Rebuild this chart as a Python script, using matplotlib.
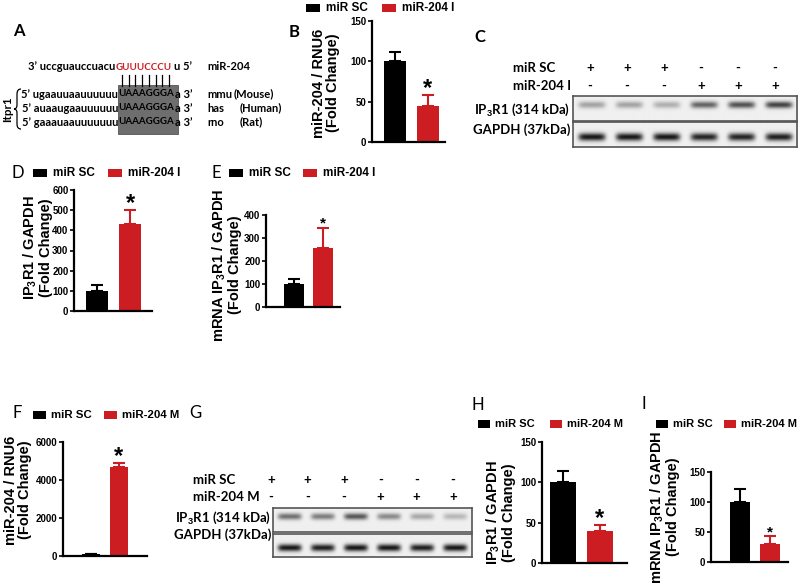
import numpy as np
import matplotlib
matplotlib.use("Agg")
import matplotlib.pyplot as plt
from matplotlib.patches import Rectangle, PathPatch
from matplotlib.path import Path

W, H = 800, 588
RED = '#cc1d22'
BLACK = '#000000'

# ---- data ----
groups_i = ['miR SC', 'miR-204 I']
groups_m = ['miR SC', 'miR-204 M']

b_mean, b_err = [100, 45], [11, 13]
d_mean, d_err = [100, 432], [27, 68]
e_mean, e_err = [100, 255], [20, 90]
f_mean, f_err = [80, 4700], [20, 180]
h_mean, h_err = [100, 40], [14, 7]
i_mean, i_err = [100, 30], [21, 13]

b_ticks = [0, 50, 100, 150]
d_ticks = [0, 100, 200, 300, 400, 500, 600]
e_ticks = [0, 100, 200, 300, 400]
f_ticks = [0, 2000, 4000, 6000]
h_ticks = [0, 50, 100, 150]
i_ticks = [0, 50, 100, 150]

mir_prefix, mir_seed, mir_suffix, mir_name = "3\u2019 uccguauccuacu", "GUUUCCCU", "u 5\u2019", "miR-204"
utr_prefix = ["5\u2019 ugaauuaauuuuuu", "5\u2019 auaaugaauuuuuu", "5\u2019 gaaauaauuuuuuu"]
utr_seed = "UAAAGGGA"
utr_suffix = "a 3\u2019"
species = ["mmu", "has", "rno"]
species_names = ["(Mouse)", "(Human)", "(Rat)"]

c_sc = ['+', '+', '+', '-', '-', '-']
c_mir = ['-', '-', '-', '+', '+', '+']
c_ip3r1 = [0.30, 0.30, 0.25, 0.55, 0.62, 0.68]
c_gapdh = [0.85, 0.85, 0.85, 0.80, 0.80, 0.82]
g_ip3r1 = [0.50, 0.45, 0.60, 0.40, 0.28, 0.22]
g_gapdh = [0.85, 0.82, 0.85, 0.85, 0.82, 0.85]

blot_labels = [r"IP$_3$R1 (314 kDa)", "GAPDH (37kDa)"]

plt.rcParams['font.family'] = ['Liberation Sans', 'DejaVu Sans']
plt.rcParams['font.weight'] = 'bold'
plt.rcParams['mathtext.fontset'] = 'custom'
plt.rcParams['mathtext.rm'] = 'Liberation Sans:bold'
plt.rcParams['mathtext.bf'] = 'Liberation Sans:bold'
plt.rcParams['mathtext.default'] = 'bf'

fig = plt.figure(figsize=(W / 100, H / 100), dpi=100)

# overlay in pixel coordinates
ov = fig.add_axes([0, 0, 1, 1])
ov.set_xlim(0, W)
ov.set_ylim(H, 0)
ov.axis('off')

CAL = ['Lato', 'DejaVu Sans']


def letter(x, y, s, weight='normal'):
    ov.text(x, y, s, fontsize=12, family=CAL, fontweight=weight, ha='center', va='center')


def legend(y, xs, labels, sq=14, gap=20, size=8.5):
    for x, lab, col in zip(xs, labels, [BLACK, RED]):
        ov.add_patch(Rectangle((x, y - 4), sq, 8, color=col, lw=0))
        ov.text(x + gap, y, lab, fontsize=size, ha='left', va='center')


def bar_panel(box, centers, bar_w, means, errs, ticks, star_size):
    L, T, R, B = box
    ax = fig.add_axes([L / W, 1 - B / H, (R - L) / W, (B - T) / H])
    c0, c1 = centers
    unit = c1 - c0
    ax.set_xlim((L - c0) / unit, (R - c0) / unit)
    ax.set_ylim(0, ticks[-1])
    x = np.arange(len(means))
    cols = [BLACK, RED]
    ax.bar(x, means, width=bar_w / unit, color=cols, zorder=2)
    for xi, m, e, c in zip(x, means, errs, cols):
        ax.errorbar(xi, m, yerr=[[0], [e]], color=c, capsize=4, elinewidth=1.5,
                    capthick=1.5, zorder=1)
    ax.text(1, means[1] + errs[1], '*', fontsize=star_size, ha='center', va='baseline')
    ax.set_yticks(ticks)
    ax.set_yticklabels([str(t) for t in ticks], fontsize=7)
    ax.set_xticks([])
    for s in ['top', 'right']:
        ax.spines[s].set_visible(False)
    for s in ['left', 'bottom']:
        ax.spines[s].set_linewidth(1.6)
    ax.tick_params(axis='y', length=3, width=1.2, pad=1)
    ax.patch.set_visible(False)
    return ax


def ylab(x, y, s):
    ov.text(x, y, s, rotation=90, fontsize=10.5, ha='center', va='center',
            multialignment='center', linespacing=1.0)


def blot(box, levels, band_y, sigma):
    L, T, R, B = box
    ax = fig.add_axes([L / W, 1 - B / H, (R - L) / W, (B - T) / H])
    w, h = int(R - L) * 2, int(B - T) * 2
    xs = np.linspace(0, len(levels), w)
    ys = np.linspace(0, 1, h)
    img = np.full((h, w), 0.94)
    for k, lev in enumerate(levels):
        horiz = np.exp(-((xs - (k + 0.5)) / 0.36) ** 6)
        vert = np.exp(-((ys - band_y) / sigma) ** 2)
        img -= lev * np.outer(vert, horiz)
    ax.imshow(np.clip(img, 0, 1), cmap='gray', vmin=0, vmax=1, aspect='auto',
              interpolation='bilinear')
    ax.set_xticks([])
    ax.set_yticks([])
    for s in ax.spines.values():
        s.set_color('#555555')
        s.set_linewidth(1.2)


# ---- panel A ----
letter(19, 31, 'A', 'bold')
seq_kw = dict(fontsize=8.0, family=CAL, fontweight='bold', va='center')
seed_kw = dict(fontsize=7.0, family=CAL, fontweight='bold', va='center', ha='left')
seed_x0, seed_w = 118.5, 54
ov.add_patch(Rectangle((118, 85), 60, 49, facecolor='#6e6e6e', edgecolor='#555555', lw=0.6))
ov.text(115, 67, mir_prefix, ha='right', **seq_kw)
ov.text(115.5, 67, mir_seed, color=RED, **seed_kw)
for k in range(len(mir_seed)):
    xk = seed_x0 + (k + 0.5) * seed_w / len(mir_seed)
    ov.plot([xk, xk], [75, 86], color='black', lw=0.9)
ov.text(174.5, 67, mir_suffix, ha='left', **seq_kw)
ov.text(207, 67, mir_name, ha='left', **seq_kw)
for r, (pre, sp, nm) in enumerate(zip(utr_prefix, species, species_names)):
    yy = 94 + r * 14
    ov.text(118, yy, pre, ha='right', **seq_kw)
    ov.text(seed_x0, yy, utr_seed, **seed_kw)
    ov.text(175, yy, utr_suffix, ha='left', **seq_kw)
    ov.text(207, yy, sp, ha='left', **seq_kw)
    ov.text(234 if r == 0 else 240, yy, nm, ha='left', **seq_kw)
ov.text(8, 109, 'Itpr1', rotation=90, ha='center', va='center', fontsize=8.4,
        family=CAL, fontweight='bold')
brace = Path([(21, 89), (17, 89), (17, 94), (17, 105), (17, 109), (14, 109),
              (17, 109), (17, 113), (17, 124), (17, 129), (21, 129)],
             [Path.MOVETO, Path.CURVE3, Path.CURVE3, Path.LINETO, Path.CURVE3, Path.CURVE3,
              Path.CURVE3, Path.CURVE3, Path.LINETO, Path.CURVE3, Path.CURVE3])
ov.add_patch(PathPatch(brace, fill=False, lw=0.9, color='black'))

# ---- panel B ----
letter(294, 32, 'B', 'bold')
legend(8, [306, 382], groups_i)
bar_panel((372, 21, 445, 142), (394.5, 427.5), 22, b_mean, b_err, b_ticks, 17)
ylab(326, 83, "miR-204 / RNU6\n(Fold Change)")

# ---- panel C ----
letter(480, 37, 'C', 'bold')
blot_kw = dict(fontsize=9.5, family=CAL, fontweight='bold', va='center')
ov.text(513, 68, groups_i[0], ha='left', **blot_kw)
ov.text(513, 86, groups_i[1], ha='left', **blot_kw)
for xk, s1, s2 in zip(np.linspace(590, 775, 6), c_sc, c_mir):
    ov.text(xk, 68, s1, ha='center', **blot_kw)
    ov.text(xk, 86, s2, ha='center', **blot_kw)
ov.text(570, 110, blot_labels[0], ha='right', **blot_kw)
ov.text(570, 130, blot_labels[1], ha='right', **blot_kw)
blot((573, 96, 797, 121), c_ip3r1, 0.35, 0.14)
blot((573, 122, 797, 147), c_gapdh, 0.6, 0.16)

# ---- panel D ----
letter(18, 173, 'D')
legend(173, [33, 108], groups_i)
bar_panel((74, 190, 152, 311), (96.5, 130), 22, d_mean, d_err, d_ticks, 17)
ylab(37, 248, "IP$_3$R1 / GAPDH\n(Fold Change)")

# ---- panel E ----
letter(216, 173, 'E')
legend(173, [229, 303], groups_i)
bar_panel((266, 215, 340, 307), (293.5, 323), 20, e_mean, e_err, e_ticks, 11)
ylab(226, 265, "mRNA IP$_3$R1 / GAPDH\n(Fold Change)")

# ---- panel F ----
letter(17, 413, 'F')
legend(415, [33, 104], groups_m, sq=13, gap=18, size=8.2)
bar_panel((63, 442, 147, 556), (91, 119), 18, f_mean, f_err, f_ticks, 17)
ylab(18, 490, "miR-204 / RNU6\n(Fold Change)")

# ---- panel G ----
letter(195, 413, 'G')
ov.text(193, 480, groups_m[0], ha='left', **blot_kw)
ov.text(193, 497, groups_m[1], ha='left', **blot_kw)
for xk, s1, s2 in zip(np.linspace(271, 453, 6), c_sc, c_mir):
    ov.text(xk, 480, s1, ha='center', **blot_kw)
    ov.text(xk, 497, s2, ha='center', **blot_kw)
ov.text(271, 518, blot_labels[0], ha='right', **blot_kw)
ov.text(271, 535, blot_labels[1], ha='right', **blot_kw)
blot((273, 508, 472, 532), g_ip3r1, 0.35, 0.14)
blot((273, 534, 472, 557), g_gapdh, 0.6, 0.16)

# ---- panel H ----
letter(478, 405, 'H')
legend(424, [478, 550], groups_m, sq=12, gap=17, size=8)
bar_panel((542, 442, 627, 563), (562.5, 599.5), 26, h_mean, h_err, h_ticks, 17)
ylab(500, 513, "IP$_3$R1 / GAPDH\n(Fold Change)")

# ---- panel I ----
letter(644, 404, 'I')
legend(424, [656, 724], groups_m, sq=12, gap=17, size=8)
bar_panel((711, 472, 788, 562), (740, 769.5), 20, i_mean, i_err, i_ticks, 11)
ylab(664, 507, "mRNA IP$_3$R1 / GAPDH\n(Fold Change)")

fig.savefig('out.png', dpi=100)
